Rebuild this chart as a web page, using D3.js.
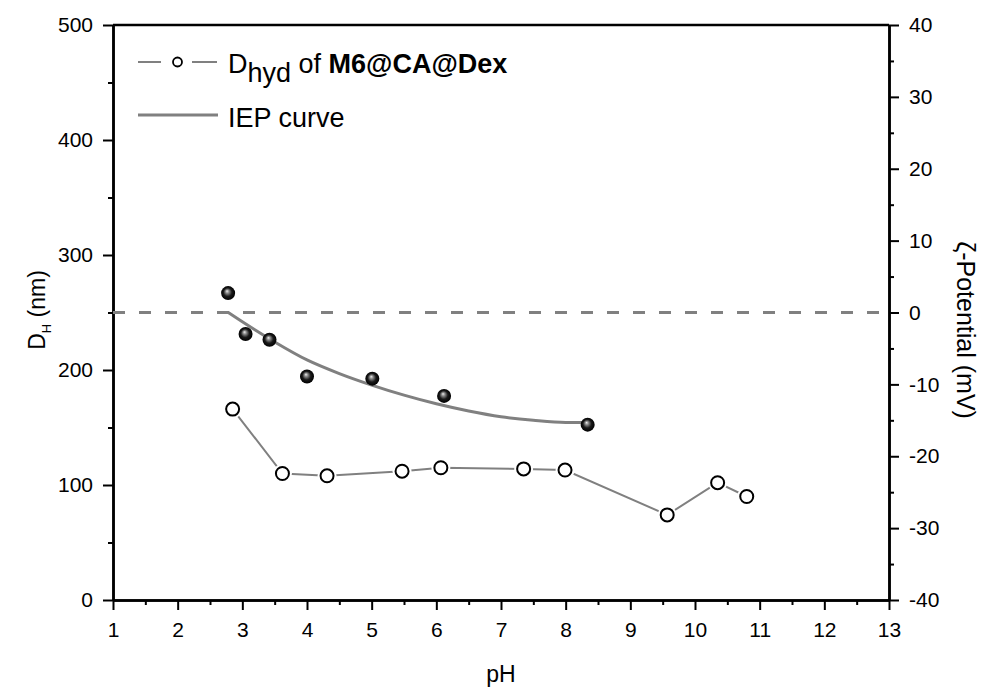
<!DOCTYPE html>
<html>
<head>
<meta charset="utf-8">
<script src="https://cdn.jsdelivr.net/npm/d3@7"></script>
<style>
  html, body { margin: 0; padding: 0; background: #fff; }
  svg { display: block; font-family: "Liberation Sans", Arial, sans-serif; }
</style>
</head>
<body>
<svg id="chart" width="987" height="688"></svg>
<script>
// ---- data ----
const xTicks = [1,2,3,4,5,6,7,8,9,10,11,12,13];
const leftTicks = [0,100,200,300,400,500];
const rightTicks = [-40,-30,-20,-10,0,10,20,30,40];

// hydrodynamic diameter (left axis)
const dhydPH = [2.85, 3.62, 4.31, 5.47, 6.07, 7.35, 7.99, 9.57, 10.35, 10.8];
const dhydNM = [166, 110, 108, 112, 115, 114, 113, 74, 102, 90];

// zeta potential points (right axis)
const zetaPH = [2.78, 3.05, 3.42, 4.0, 5.01, 6.12, 8.34];
const zetaMV = [2.7, -3.0, -3.8, -8.9, -9.2, -11.6, -15.6];

// IEP curve (right axis)
const iepPH = [2.78, 3.0, 3.5, 4.0, 4.5, 5.0, 5.5, 6.0, 6.5, 7.0, 7.5, 8.0, 8.34];
const iepMV = [0.0, -1.3, -4.1, -6.6, -8.5, -10.1, -11.5, -12.7, -13.7, -14.5, -15.0, -15.3, -15.3];

const zeroLine = 0;

// ---- layout ----
const L = 113, R = 889, T = 25, B = 600;
const svg = d3.select("#chart");

const x = d3.scaleLinear().domain([1, 13]).range([L, R]);
const yL = d3.scaleLinear().domain([0, 500]).range([B, T]);
const yR = d3.scaleLinear().domain([-40, 40]).range([B, T]);

const defs = svg.append("defs");
const grad = defs.append("radialGradient").attr("id", "sphere")
  .attr("cx", "50%").attr("cy", "50%").attr("r", "50%")
  .attr("fx", "42%").attr("fy", "35%");
grad.append("stop").attr("offset", "0%").attr("stop-color", "#eeeeee");
grad.append("stop").attr("offset", "25%").attr("stop-color", "#8a8a8a");
grad.append("stop").attr("offset", "60%").attr("stop-color", "#1a1a1a");
grad.append("stop").attr("offset", "100%").attr("stop-color", "#000000");

const tickFont = 21;
const fmt = d => String(d);

function styleAxis(g) {
  g.attr("font-family", "'Liberation Sans', Arial, sans-serif");
  g.selectAll("path.domain").attr("stroke", "#000").attr("stroke-width", 2.5);
  g.selectAll(".tick line").attr("stroke", "#000").attr("stroke-width", 2);
  g.selectAll(".tick text").attr("font-size", tickFont).attr("fill", "#000");
}

function halves(arr) {
  const out = [];
  for (let i = 0; i < arr.length - 1; i++) out.push((arr[i] + arr[i+1]) / 2);
  return out;
}

// bottom axis
svg.append("g").attr("transform", `translate(0,${B})`)
  .call(d3.axisBottom(x).tickValues(halves(xTicks)).tickSize(5).tickSizeOuter(0).tickFormat(""))
  .call(styleAxis);
svg.append("g").attr("transform", `translate(0,${B})`)
  .call(d3.axisBottom(x).tickValues(xTicks).tickSize(10).tickSizeOuter(0).tickPadding(12).tickFormat(fmt))
  .call(styleAxis);

// left axis
svg.append("g").attr("transform", `translate(${L},0)`)
  .call(d3.axisLeft(yL).tickValues(halves(leftTicks)).tickSize(5).tickSizeOuter(0).tickFormat(""))
  .call(styleAxis);
svg.append("g").attr("transform", `translate(${L},0)`)
  .call(d3.axisLeft(yL).tickValues(leftTicks).tickSize(10).tickSizeOuter(0).tickPadding(10).tickFormat(fmt))
  .call(styleAxis);

// right axis
svg.append("g").attr("transform", `translate(${R},0)`)
  .call(d3.axisRight(yR).tickValues(halves(rightTicks)).tickSize(5).tickSizeOuter(0).tickFormat(""))
  .call(styleAxis);
svg.append("g").attr("transform", `translate(${R},0)`)
  .call(d3.axisRight(yR).tickValues(rightTicks).tickSize(10).tickSizeOuter(0).tickPadding(10).tickFormat(fmt))
  .call(styleAxis);

// top border
svg.append("line").attr("x1", L).attr("x2", R).attr("y1", T).attr("y2", T)
  .attr("stroke", "#000").attr("stroke-width", 2.5);

// zero dashed line (right axis)
svg.append("line")
  .attr("x1", L).attr("x2", R)
  .attr("y1", yR(zeroLine)).attr("y2", yR(zeroLine))
  .attr("stroke", "#808080").attr("stroke-width", 3)
  .attr("stroke-dasharray", "12,14");

// IEP curve
const iepData = iepPH.map((p, i) => [p, iepMV[i]]);
svg.append("path").datum(iepData)
  .attr("fill", "none").attr("stroke", "#808080").attr("stroke-width", 3)
  .attr("d", d3.line().x(d => x(d[0])).y(d => yR(d[1])).curve(d3.curveMonotoneX));

// D_hyd line
const dData = dhydPH.map((p, i) => [p, dhydNM[i]]);
svg.append("path").datum(dData)
  .attr("fill", "none").attr("stroke", "#808080").attr("stroke-width", 2)
  .attr("d", d3.line().x(d => x(d[0])).y(d => yL(d[1])));

// halos to create gaps around symbols
svg.append("g").selectAll("circle").data(dData).join("circle")
  .attr("cx", d => x(d[0])).attr("cy", d => yL(d[1])).attr("r", 9.5)
  .attr("fill", "#fff");
svg.append("g").selectAll("circle").data(dData).join("circle")
  .attr("cx", d => x(d[0])).attr("cy", d => yL(d[1])).attr("r", 6.5)
  .attr("fill", "#fff").attr("stroke", "#000").attr("stroke-width", 2);

// zeta spheres
const zData = zetaPH.map((p, i) => [p, zetaMV[i]]);
svg.append("g").selectAll("circle").data(zData).join("circle")
  .attr("cx", d => x(d[0])).attr("cy", d => yR(d[1])).attr("r", 7)
  .attr("fill", "url(#sphere)");

// axis titles
svg.append("text").attr("x", x(7)).attr("y", 682).attr("text-anchor", "middle")
  .attr("font-size", 23).text("pH");

const lt = svg.append("text").attr("transform", "translate(45,310) rotate(-90)")
  .attr("text-anchor", "middle").attr("font-size", 23);
lt.append("tspan").text("D");
lt.append("tspan").attr("font-size", 13).attr("dy", 6).text("H");
lt.append("tspan").attr("dy", -6).text(" (nm)");

svg.append("text").attr("transform", "translate(957,330) rotate(90)")
  .attr("text-anchor", "middle").attr("font-size", 25).text("ζ-Potential (mV)");

// legend
const lg = svg.append("g");
lg.append("line").attr("x1", 138).attr("x2", 161).attr("y1", 62).attr("y2", 62)
  .attr("stroke", "#808080").attr("stroke-width", 2);
lg.append("line").attr("x1", 192).attr("x2", 217).attr("y1", 62).attr("y2", 62)
  .attr("stroke", "#808080").attr("stroke-width", 2);
lg.append("circle").attr("cx", 177.5).attr("cy", 62).attr("r", 4.5)
  .attr("fill", "#fff").attr("stroke", "#000").attr("stroke-width", 1.8);
const t1 = lg.append("text").attr("x", 228).attr("y", 73).attr("font-size", 27);
t1.append("tspan").text("D");
t1.append("tspan").attr("dy", 9).text("hyd");
t1.append("tspan").attr("dy", -9).text(" of ");
t1.append("tspan").attr("font-weight", "bold").text("M6@CA@Dex");

lg.append("line").attr("x1", 138).attr("x2", 218).attr("y1", 115).attr("y2", 115)
  .attr("stroke", "#808080").attr("stroke-width", 3);
lg.append("text").attr("x", 228).attr("y", 127).attr("font-size", 27).text("IEP curve");
</script>
</body>
</html>
